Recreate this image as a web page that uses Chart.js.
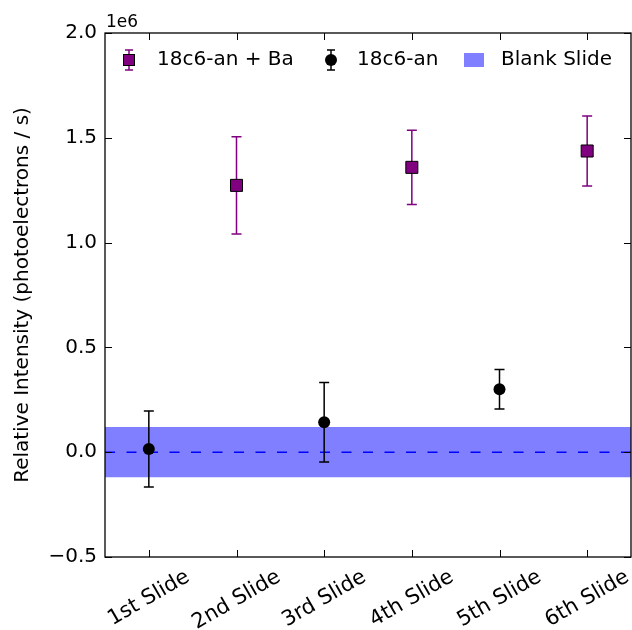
<!DOCTYPE html>
<html>
<head>
<meta charset="utf-8">
<script src="https://cdn.jsdelivr.net/npm/chart.js@4.4.0/dist/chart.umd.min.js"></script>
<style>
  html, body { margin: 0; padding: 0; background: #fff; overflow: hidden; }
  canvas { display: block; }
</style>
</head>
<body>
<canvas id="chart" width="632" height="630"></canvas>
<script>
// data (values in photoelectrons / s)
const slides = ['1st Slide', '2nd Slide', '3rd Slide', '4th Slide', '5th Slide', '6th Slide'];
const yTicks = [-0.5e6, 0, 0.5e6, 1.0e6, 1.5e6, 2.0e6];

const baSlides = [2, 4, 6];
const baValues = [1.273e6, 1.359e6, 1.437e6];
const baErrors = [0.232e6, 0.177e6, 0.167e6];

const anSlides = [1, 3, 5];
const anValues = [0.015e6, 0.143e6, 0.300e6];
const anErrors = [0.181e6, 0.190e6, 0.094e6];

const blankLevel = 0;
const blankSpread = 0.12e6;

const FONT = "'DejaVu Sans', sans-serif";
const PURPLE = '#800080';

const toPoints = (xs, ys) => xs.map((x, i) => ({ x: x, y: ys[i] }));

// error bars go under the markers of their own dataset
const errorBars = {
  id: 'errorBars',
  beforeDatasetDraw(chart, args) {
    const ds = chart.data.datasets[args.index];
    if (!ds.errors) return;
    const { ctx, scales: { x, y } } = chart;
    ctx.save();
    ctx.strokeStyle = ds.errorColor;
    ctx.lineWidth = 1.5;
    ds.data.forEach((p, i) => {
      const px = x.getPixelForValue(p.x);
      const top = y.getPixelForValue(p.y + ds.errors[i]);
      const bot = y.getPixelForValue(p.y - ds.errors[i]);
      ctx.beginPath();
      ctx.moveTo(px, top); ctx.lineTo(px, bot);
      ctx.moveTo(px - 5, top); ctx.lineTo(px + 5, top);
      ctx.moveTo(px - 5, bot); ctx.lineTo(px + 5, bot);
      ctx.stroke();
    });
    ctx.restore();
  }
};

// matplotlib-ish frame: spines, inward ticks, rotated labels, offset text, legend
const frame = {
  id: 'frame',
  afterDraw(chart) {
    const { ctx, chartArea: a, scales: { x, y } } = chart;
    ctx.save();
    ctx.strokeStyle = '#000';
    ctx.lineWidth = 1.3;
    ctx.strokeRect(a.left, a.top, a.right - a.left, a.bottom - a.top);

    ctx.lineWidth = 1;
    ctx.beginPath();
    slides.forEach((s, i) => {
      const px = Math.round(x.getPixelForValue(i + 1)) + 0.5;
      ctx.moveTo(px, a.bottom); ctx.lineTo(px, a.bottom - 7);
      ctx.moveTo(px, a.top); ctx.lineTo(px, a.top + 7);
    });
    yTicks.forEach(v => {
      const py = Math.round(y.getPixelForValue(v)) + 0.5;
      ctx.moveTo(a.left, py); ctx.lineTo(a.left + 7, py);
      ctx.moveTo(a.right, py); ctx.lineTo(a.right - 7, py);
    });
    ctx.stroke();

    // rotated category labels, centred under their tick
    ctx.fillStyle = '#000';
    ctx.font = '21px ' + FONT;
    ctx.textAlign = 'center';
    ctx.textBaseline = 'middle';
    const ang = Math.PI / 6;
    slides.forEach((s, i) => {
      const w = ctx.measureText(s).width;
      const h = 22;
      const bh = w * Math.sin(ang) + h * Math.cos(ang);
      const px = x.getPixelForValue(i + 1);
      ctx.save();
      ctx.translate(px, a.bottom + 9 + bh / 2);
      ctx.rotate(-ang);
      ctx.fillText(s, 0, 0);
      ctx.restore();
    });

    // offset text
    ctx.font = '17px ' + FONT;
    ctx.textAlign = 'left';
    ctx.textBaseline = 'alphabetic';
    ctx.fillText('1e6', a.left + 1, a.top - 6);

    // legend
    const ly = 60;
    ctx.font = '20px ' + FONT;
    ctx.textBaseline = 'middle';
    ctx.lineWidth = 1.5;
    const legendBar = (cx, color) => {
      ctx.strokeStyle = color;
      ctx.beginPath();
      ctx.moveTo(cx, ly - 10); ctx.lineTo(cx, ly + 10);
      ctx.moveTo(cx - 4, ly - 10); ctx.lineTo(cx + 4, ly - 10);
      ctx.moveTo(cx - 4, ly + 10); ctx.lineTo(cx + 4, ly + 10);
      ctx.stroke();
    };
    legendBar(129, PURPLE);
    ctx.fillStyle = PURPLE;
    ctx.fillRect(123.5, ly - 5.5, 11, 11);
    ctx.strokeStyle = '#000';
    ctx.lineWidth = 1;
    ctx.strokeRect(123.5, ly - 5.5, 11, 11);
    ctx.fillStyle = '#000';
    ctx.fillText('18c6-an + Ba', 157, ly);

    ctx.lineWidth = 1.5;
    legendBar(331, '#000');
    ctx.beginPath();
    ctx.arc(331, ly, 6, 0, Math.PI * 2);
    ctx.fill();
    ctx.fillText('18c6-an', 357, ly);

    ctx.fillStyle = 'rgba(0,0,255,0.5)';
    ctx.fillRect(464, ly - 7, 20, 14);
    ctx.fillStyle = '#000';
    ctx.fillText('Blank Slide', 501, ly);
    ctx.restore();
  }
};

new Chart('chart', {
  type: 'scatter',
  data: {
    datasets: [
      {
        label: '18c6-an + Ba',
        data: toPoints(baSlides, baValues),
        errors: baErrors,
        errorColor: PURPLE,
        pointStyle: 'rect',
        pointRadius: 8.5,
        backgroundColor: PURPLE,
        borderColor: '#000',
        borderWidth: 1
      },
      {
        label: '18c6-an',
        data: toPoints(anSlides, anValues),
        errors: anErrors,
        errorColor: '#000',
        pointStyle: 'circle',
        pointRadius: 6,
        backgroundColor: '#000',
        borderColor: '#000',
        borderWidth: 0
      },
      {
        label: 'zero',
        type: 'line',
        data: [{ x: 0.5, y: blankLevel }, { x: 6.5, y: blankLevel }],
        borderColor: '#0000ff',
        borderWidth: 1.5,
        borderDash: [10, 11.5],
        pointRadius: 0,
        fill: false
      },
      {
        label: 'Blank Slide',
        type: 'line',
        data: [{ x: 0.5, y: blankLevel + blankSpread }, { x: 6.5, y: blankLevel + blankSpread }],
        fill: { value: blankLevel - blankSpread },
        backgroundColor: 'rgba(0,0,255,0.5)',
        borderWidth: 0,
        pointRadius: 0
      }
    ]
  },
  options: {
    responsive: false,
    animation: false,
    events: [],
    // point markers would otherwise push the plot edge inwards
    layout: { autoPadding: false, padding: { top: 33, right: 1, left: 0, bottom: 0 } },
    plugins: { legend: { display: false }, tooltip: { enabled: false } },
    scales: {
      x: {
        type: 'linear',
        min: 0.5,
        max: 6.5,
        grid: { display: false, drawTicks: false },
        border: { display: false },
        ticks: { display: false },
        afterFit(scale) { scale.height = 73; }
      },
      y: {
        min: -0.5e6,
        max: 2.0e6,
        afterBuildTicks(scale) { scale.ticks = yTicks.map(v => ({ value: v })); },
        grid: { display: false, drawTicks: false, tickLength: 0 },
        border: { display: false },
        ticks: {
          color: '#000',
          padding: 8,
          font: { family: FONT, size: 20 },
          callback: v => (v / 1e6).toFixed(1).replace('-', '\u2212')
        },
        title: {
          display: true,
          text: 'Relative Intensity (photoelectrons / s)',
          color: '#000',
          font: { family: FONT, size: 20 },
          padding: { top: 11, bottom: 0 }
        },
        afterFit(scale) { scale.width = 105; }
      }
    }
  },
  plugins: [errorBars, frame]
});
</script>
</body>
</html>
